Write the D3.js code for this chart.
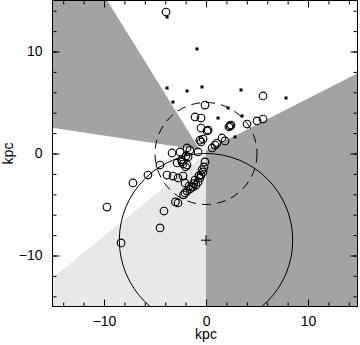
<!DOCTYPE html>
<html>
<head>
<meta charset="utf-8">
<script src="https://cdn.jsdelivr.net/npm/d3@7"></script>
<style>
  body { margin: 0; background: #fff; }
  text { font-family: "Liberation Sans", Arial, sans-serif; font-size: 14px; fill: #000; }
</style>
</head>
<body>
<div id="chart"></div>
<script>
// Chart size
var svgWidth = 360;
var svgHeight = 345;

// Tick values (kpc)
var minorTicks = d3.range(-14, 15, 2);
var majorTicks = [-10, 0, 10];

// Shaded sectors: apex (kpc) and angle range (degrees)
var darkSectors = [
  { apex: [-0.6, 0.35], from: 121.8, to: 171.5 },
  { apex: [0, 0.3], from: -90, to: 27 }
];
var lightSectors = [
  { apex: [0, 0], from: 219, to: 270 }
];

// Reference circles (kpc)
var solarCircle = { cx: 0, cy: -8.5, r: 8.5 };
var nearCircle = { cx: 0, cy: 0, r: 5 };
var centerMark = [0, -8.5];

// Open circles, [x, y] in kpc
var openPoints = [
  [-3.92, 13.87], [5.59, 5.64], [-0.10, 4.75], [-1.08, 3.58], [-0.49, 3.48],
  [0.20, 2.30], [0.10, 2.21], [-0.49, 2.50], [2.35, 2.70], [2.45, 2.79],
  [2.25, 2.60], [4.02, 2.89], [5.00, 3.19], [5.59, 3.38], [-0.29, 1.42],
  [-0.49, 1.13], [1.57, 1.52], [1.86, 1.23], [0.88, 0.83], [0.59, 0.54],
  [-1.86, 0.54], [-0.78, 0.15], [-1.57, 0.34], [-2.55, 0.15], [-3.33, 0.05],
  [-1.96, -0.25], [-1.76, -0.34], [-2.84, -0.93], [-2.35, -0.83], [-1.86, -1.13],
  [-2.25, -1.03], [-4.51, -1.13], [-5.69, -2.11], [-7.16, -2.89], [-9.71, -5.25],
  [-8.33, -8.77], [-4.12, -5.64], [-4.51, -7.30], [-2.75, -4.85], [-3.82, -2.11],
  [-3.24, -2.21], [-2.25, -2.21], [-2.75, -2.40], [-2.06, -2.89], [-0.10, -0.83],
  [-0.20, -1.32], [-0.29, -1.81], [-0.49, -2.11], [-0.59, -2.40], [-0.78, -2.79],
  [-0.98, -3.09], [-1.27, -3.28], [-1.57, -3.48], [-1.86, -3.68], [-2.06, -3.87],
  [-1.67, -3.19], [-1.08, -2.60], [-0.40, -1.60], [-0.70, -2.20], [-1.20, -2.95],
  [-1.45, -3.30], [-2.20, -4.05], [-2.40, -0.60], [-2.00, -1.30], [-3.00, -4.75],
  [1.05, 1.00], [-0.60, 1.30]
];

// Filled squares, [x, y] in kpc
var filledPoints = [
  [-3.82, 13.38], [-0.88, 10.25], [-3.82, 6.42], [-3.24, 5.05], [-1.86, 6.13],
  [-0.39, 6.52], [3.43, 6.23], [7.84, 5.44], [1.18, 3.48], [3.53, 3.68],
  [2.84, 1.62], [2.16, 4.46], [-1.96, -0.05]
];

// Plot box
var boxLeft = 52.5, boxRight = 357.5, boxTop = 0.5, boxBottom = 306.5;

var x = d3.scaleLinear().domain([-15.05, 14.85]).range([boxLeft, boxRight]);
var y = d3.scaleLinear().domain([-15, 15]).range([boxBottom, boxTop]);

var svg = d3.select("#chart")
  .append("svg")
  .attr("width", svgWidth)
  .attr("height", svgHeight);

svg.append("clipPath")
  .attr("id", "plotclip")
  .append("rect")
  .attr("x", boxLeft)
  .attr("y", boxTop)
  .attr("width", boxRight - boxLeft)
  .attr("height", boxBottom - boxTop);

var plot = svg.append("g").attr("clip-path", "url(#plotclip)");

// sector polygon path
function sectorPath(s) {
  var pts = [[x(s.apex[0]), y(s.apex[1])]];
  var R = 60;
  for (var a = s.from; a <= s.to + 0.001; a += (s.to - s.from) / 40) {
    var rad = a * Math.PI / 180;
    pts.push([x(s.apex[0] + R * Math.cos(rad)), y(s.apex[1] + R * Math.sin(rad))]);
  }
  return d3.line()(pts) + "Z";
}

plot.selectAll(".light")
  .data(lightSectors)
  .enter()
  .append("path")
  .attr("d", sectorPath)
  .attr("fill", "#e8e8e8");

plot.selectAll(".dark")
  .data(darkSectors)
  .enter()
  .append("path")
  .attr("d", sectorPath)
  .attr("fill", "#a3a3a3");

// solar circle
plot.append("circle")
  .attr("cx", x(solarCircle.cx))
  .attr("cy", y(solarCircle.cy))
  .attr("r", x(solarCircle.r) - x(0))
  .attr("fill", "none")
  .attr("stroke", "#000")
  .attr("stroke-width", 1);

// dashed 5 kpc circle
plot.append("circle")
  .attr("cx", x(nearCircle.cx))
  .attr("cy", y(nearCircle.cy))
  .attr("r", x(nearCircle.r) - x(0))
  .attr("fill", "none")
  .attr("stroke", "#000")
  .attr("stroke-width", 1)
  .attr("stroke-dasharray", "9,6");

// galactic centre cross
var cx0 = x(centerMark[0]), cy0 = y(centerMark[1]);
plot.append("path")
  .attr("d", `M${cx0 - 5},${cy0}H${cx0 + 5}M${cx0},${cy0 - 5}V${cy0 + 5}`)
  .attr("stroke", "#000")
  .attr("stroke-width", 1);

// open circles
plot.selectAll(".open")
  .data(openPoints)
  .enter()
  .append("circle")
  .attr("cx", d => x(d[0]))
  .attr("cy", d => y(d[1]))
  .attr("r", 3.8)
  .attr("fill", "none")
  .attr("stroke", "#000")
  .attr("stroke-width", 1.15);

// filled squares
plot.selectAll(".filled")
  .data(filledPoints)
  .enter()
  .append("rect")
  .attr("x", d => x(d[0]) - 1.5)
  .attr("y", d => y(d[1]) - 1.5)
  .attr("width", 3)
  .attr("height", 3)
  .attr("fill", "#000");

// axes with inward ticks
function tickAxis(axis, size, values, labels) {
  return axis.tickValues(values).tickSize(-size)
    .tickFormat(labels ? d3.format("d") : "");
}

var axes = [
  { g: `translate(0,${boxBottom})`, make: () => d3.axisBottom(x), labels: true, pad: 10 },
  { g: `translate(0,${boxTop})`, make: () => d3.axisTop(x), labels: false, pad: 0 },
  { g: `translate(${boxLeft},0)`, make: () => d3.axisLeft(y), labels: true, pad: 10 },
  { g: `translate(${boxRight},0)`, make: () => d3.axisRight(y), labels: false, pad: 0 }
];

axes.forEach(function(a) {
  var gMinor = svg.append("g").attr("transform", a.g)
    .call(tickAxis(a.make(), 4, minorTicks, false));
  var gMajor = svg.append("g").attr("transform", a.g)
    .call(tickAxis(a.make(), 7, majorTicks, a.labels).tickPadding(a.pad));
  [gMinor, gMajor].forEach(function(g) {
    g.select(".domain").remove();
    g.selectAll("line").attr("stroke", "#000");
    g.attr("font-family", null).attr("font-size", null);
  });
});

// frame
svg.append("rect")
  .attr("x", boxLeft)
  .attr("y", boxTop)
  .attr("width", boxRight - boxLeft)
  .attr("height", boxBottom - boxTop)
  .attr("fill", "none")
  .attr("stroke", "#000")
  .attr("stroke-width", 1);

// axis titles
svg.append("text")
  .attr("x", x(0))
  .attr("y", 339)
  .attr("text-anchor", "middle")
  .text("kpc");

svg.append("text")
  .attr("transform", `translate(13, ${y(0)}) rotate(-90)`)
  .attr("text-anchor", "middle")
  .text("kpc");
</script>
</body>
</html>
